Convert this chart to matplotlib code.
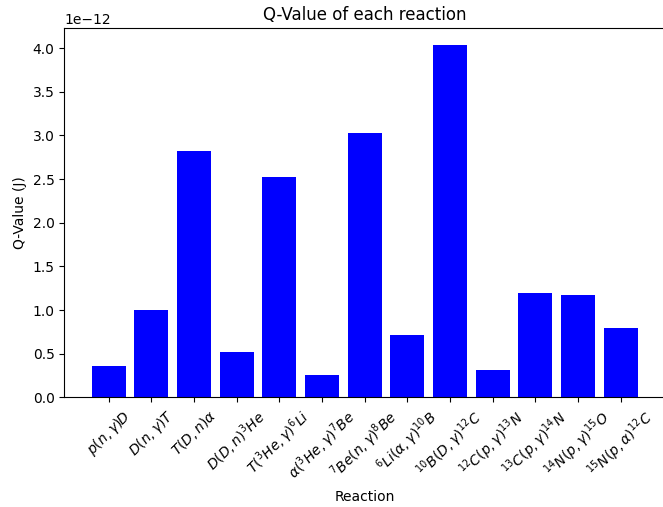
import matplotlib
matplotlib.use('Agg')
from matplotlib import pyplot as plt

# Reactions and their Q-values (J)
reactions = [r'$p(n,\gamma)D$', r'$D(n,\gamma)T$', r'$T(D,n)\alpha$',
             r'$D(D,n)^3He$', r'$T(^3He,\gamma)^6Li$', r'$\alpha(^3He,\gamma)^7Be$',
             r'$^7Be(n,\gamma)^8Be$', r'$^6Li(\alpha,\gamma)^{10}B$',
             r'$^{10}B(D,\gamma)^{12}C$', r'$^{12}C(p,\gamma)^{13}N$',
             r'$^{13}C(p,\gamma)^{14}N$', r'$^{14}N(p,\gamma)^{15}O$',
             r'$^{15}N(p,\alpha)^{12}C$']
q_values = [0.356e-12, 1.002e-12, 2.818e-12, 0.524e-12, 2.53e-12, 0.254e-12,
            3.03e-12, 0.714e-12, 4.03e-12, 0.311e-12, 1.20e-12, 1.17e-12,
            0.795e-12]

fig = plt.figure(figsize=(6.63, 5.07), dpi=100)
plt.bar(reactions, q_values, color='blue')

plt.title('Q-Value of each reaction')
plt.xlabel('Reaction')
plt.ylabel('Q-Value (J)')
plt.xticks(rotation=45)
# reference image is cropped just before the right spine
plt.gca().spines['right'].set_visible(False)

plt.subplots_adjust(left=0.097, right=1.003, top=0.945, bottom=0.216)
plt.savefig('out.png')
